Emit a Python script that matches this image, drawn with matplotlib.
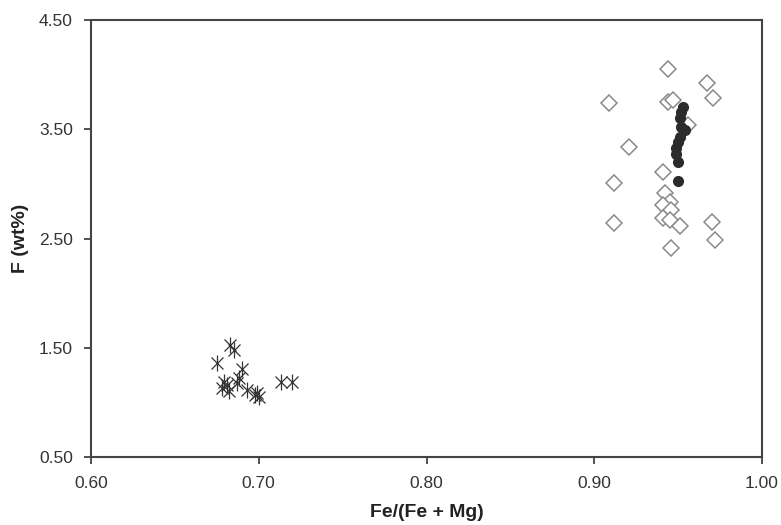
import matplotlib.pyplot as plt

plt.rcParams['font.family'] = ['Liberation Sans', 'DejaVu Sans']

# open diamonds
diamond_x = [0.944, 0.909, 0.967, 0.971, 0.944, 0.947, 0.956, 0.921, 0.941, 0.912,
             0.942, 0.945, 0.941, 0.946, 0.941, 0.945, 0.951, 0.912, 0.970, 0.972, 0.946]
diamond_y = [4.05, 3.74, 3.92, 3.79, 3.75, 3.77, 3.54, 3.34, 3.11, 3.01,
             2.92, 2.83, 2.81, 2.76, 2.69, 2.67, 2.61, 2.64, 2.65, 2.49, 2.41]

# filled circles
circle_x = [0.953, 0.952, 0.951, 0.952, 0.954, 0.951, 0.950, 0.949, 0.949, 0.950, 0.950]
circle_y = [3.70, 3.66, 3.60, 3.52, 3.49, 3.43, 3.38, 3.33, 3.27, 3.20, 3.03]

# asterisks
star_x = [0.683, 0.685, 0.675, 0.690, 0.679, 0.681, 0.678, 0.682, 0.688, 0.687,
          0.693, 0.698, 0.700, 0.699, 0.713, 0.720]
star_y = [1.525, 1.48, 1.36, 1.31, 1.19, 1.16, 1.13, 1.10, 1.22, 1.18,
          1.11, 1.07, 1.05, 1.09, 1.19, 1.19]

x_ticks = [0.60, 0.70, 0.80, 0.90, 1.00]
y_ticks = [0.50, 1.50, 2.50, 3.50, 4.50]

fig = plt.figure(figsize=(7.81, 5.25), dpi=100)
ax = fig.add_axes([91 / 781, 1 - 457 / 525, (762 - 91) / 781, (457 - 20) / 525])

ax.plot(diamond_x, diamond_y, linestyle='none', marker='D', markersize=8.5,
        markerfacecolor='white', markeredgecolor='#8a8a8a', markeredgewidth=1.1)
ax.plot(circle_x, circle_y, linestyle='none', marker='o', markersize=7,
        color='#2b2b2b')
ax.plot(star_x, star_y, linestyle='none', marker='x', markersize=8,
        color='#333333', markeredgewidth=0.9)
ax.plot(star_x, star_y, linestyle='none', marker='|', markersize=11,
        color='#333333', markeredgewidth=0.9)

ax.set_xlim(0.60, 1.00)
ax.set_ylim(0.50, 4.50)
ax.set_xticks(x_ticks)
ax.set_yticks(y_ticks)
ax.set_xticklabels([f"{v:.2f}" for v in x_ticks])
ax.set_yticklabels([f"{v:.2f}" for v in y_ticks])
ax.tick_params(direction='out', length=5, width=1.2, color='#333333',
               labelsize=12.5, labelcolor='#333333')
ax.tick_params(axis='y', pad=8)
ax.tick_params(axis='x', pad=9)

for side in ax.spines.values():
    side.set_color('#444444')
    side.set_linewidth(1.5)

ax.set_xlabel('Fe/(Fe + Mg)', fontsize=14, fontweight='bold', color='#222222', labelpad=9)
ax.set_ylabel('F (wt%)', fontsize=14, fontweight='bold', color='#222222', labelpad=7)

plt.savefig('out.png', dpi=100)
plt.close()
